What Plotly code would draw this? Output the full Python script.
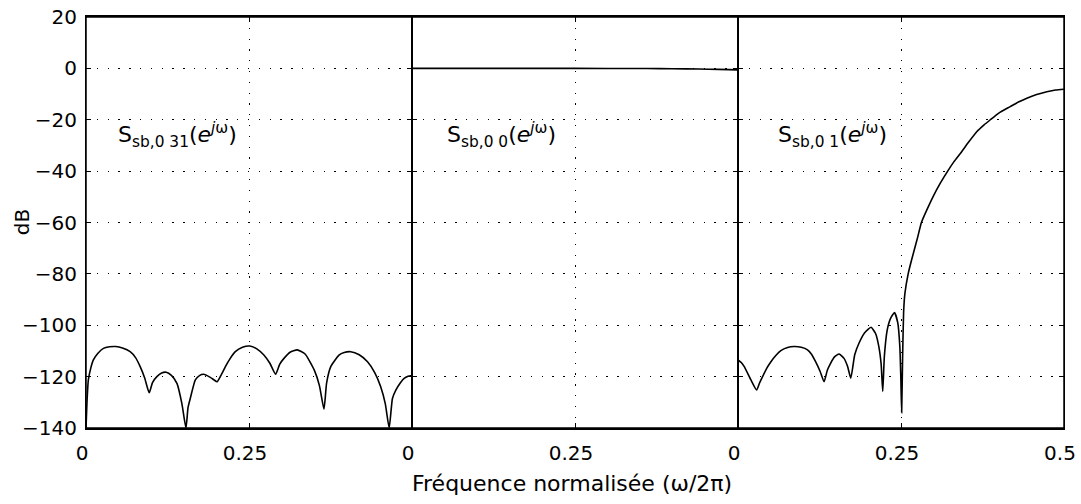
import plotly.graph_objects as go
from plotly.subplots import make_subplots

# ---- data ----
freq_31 = [0.0, 0.0015, 0.0036, 0.0075, 0.0113, 0.018, 0.0267, 0.036, 0.0456, 0.056, 0.0677, 0.076, 0.0831, 0.09, 0.0969,
           0.102, 0.1087, 0.116, 0.123, 0.131, 0.1395, 0.147, 0.1533,
           0.1565, 0.16, 0.1677, 0.174, 0.1805, 0.19, 0.196, 0.201,
           0.207, 0.2138, 0.221, 0.229, 0.24, 0.2512, 0.262, 0.2728, 0.282, 0.2908,
           0.297, 0.3036, 0.313, 0.324, 0.336, 0.35, 0.358, 0.365,
           0.369, 0.3754, 0.388, 0.396, 0.406, 0.419, 0.4318, 0.443, 0.452, 0.459, 0.465,
           0.47, 0.4754, 0.482, 0.488, 0.494, 0.5]
db_31 = [-140, -130, -121.3, -116.5, -113.5, -111, -109, -108.4, -108.3, -108.9, -110.3, -112.6, -116.1, -120.5, -126.3,
         -122.3, -120, -118.6, -118.3, -119.5, -122.6, -130.4, -140,
         -132, -128.4, -121.3, -119.6, -119.1, -120.2, -121.2, -122,
         -119.5, -116.1, -113, -110.3, -108.6, -108.1, -109.2, -111.6, -114.8, -119.1,
         -115.2, -112.9, -110.5, -109.6, -111.2, -117.4, -123.5, -132.7,
         -122.5, -116.1, -111.6, -110.6, -110.3, -111.5, -114.2, -118.5, -123.9, -130.5, -140,
         -128.5, -125.2, -122.5, -120.7, -119.9, -119.6]

freq_00 = [0.0, 0.1, 0.2, 0.3, 0.36, 0.4, 0.44, 0.47, 0.5]
db_00 = [0.0, 0.0, 0.0, -0.02, -0.05, -0.12, -0.25, -0.4, -0.6]

freq_01 = [0.0, 0.005, 0.0096, 0.0199, 0.0286, 0.033, 0.0377, 0.044, 0.0505, 0.058, 0.0657, 0.076, 0.086, 0.097,
           0.1066, 0.113, 0.119, 0.126, 0.132, 0.137, 0.142, 0.148, 0.155, 0.1626, 0.168, 0.173,
           0.179, 0.1855, 0.194, 0.204, 0.211, 0.216, 0.2195, 0.222, 0.2245, 0.2289, 0.234, 0.240,
           0.245, 0.2482, 0.2497, 0.251, 0.2525, 0.254, 0.256, 0.261, 0.2655, 0.270, 0.2755, 0.2813,
           0.2905, 0.300, 0.3105, 0.3216, 0.331, 0.341, 0.3535, 0.3665, 0.377, 0.387, 0.40, 0.4174,
           0.43, 0.443, 0.458, 0.4736, 0.487, 0.5]
db_01 = [-113.5, -114.5, -116.1, -121.3, -125.2, -122.5, -120, -116.8, -114.2, -111.8, -109.9, -108.7, -108.3, -108.6,
         -109.6, -111.4, -114.2, -118, -122, -117.5, -114.8, -112.3, -111.2, -112.9, -116, -120.6,
         -111.5, -107, -103, -100.8, -103.2, -108.3, -115, -125.8, -112, -101.8, -97.3, -95.1,
         -99, -108.3, -120, -134, -112, -95, -87.6, -80, -75.3, -71, -65.8, -60,
         -54.6, -49.5, -44.6, -40, -36.4, -33.1, -28.8, -24.6, -22.1, -20, -17.4, -14.9,
         -13.1, -11.6, -10.2, -9.1, -8.4, -8.1]

panel_labels = ["S<sub>sb,0 31</sub>(<i>e</i><sup><i>j</i>ω</sup>)",
                "S<sub>sb,0 0</sub>(<i>e</i><sup><i>j</i>ω</sup>)",
                "S<sub>sb,0 1</sub>(<i>e</i><sup><i>j</i>ω</sup>)"]
label_x = [0.046, 0.05, 0.058]
label_y = -26

y_ticks = [-140, -120, -100, -80, -60, -40, -20, 0, 20]
x_ticks_partial = [0, 0.25]
x_ticks_full = [0, 0.25, 0.5]

x_title = "Fréquence normalisée (ω/2π)"
y_title = "dB"

FONT = "DejaVu Sans"

fig = make_subplots(rows=1, cols=3, shared_yaxes=True, horizontal_spacing=0)

series = [(freq_31, db_31), (freq_00, db_00), (freq_01, db_01)]
for i, (fx, fy) in enumerate(series):
    fig.add_trace(go.Scatter(x=fx, y=fy, mode="lines",
                             line=dict(color="black", width=1.6, shape="spline", smoothing=0.5),
                             showlegend=False, hoverinfo="skip", cliponaxis=True),
                  row=1, col=i + 1)

grid = dict(showgrid=True, gridcolor="black", gridwidth=1, griddash="1.3px,9.5px")
for i in range(3):
    tv = x_ticks_full if i == 2 else x_ticks_partial
    fig.update_xaxes(range=[0, 0.5], tickvals=tv, ticktext=[f"{v:g}" for v in tv],
                     showline=True, linecolor="black", linewidth=1.5, mirror="ticks",
                     ticks="inside", ticklen=5, tickcolor="black", zeroline=False,
                     tickfont=dict(family=FONT, size=20, color="black"),
                     ticklabelstandoff=6, ticklabelshift=-4, automargin=False,
                     **grid, row=1, col=i + 1)
    fig.update_yaxes(range=[-140, 20], tickvals=y_ticks,
                     showline=True, linecolor="black", linewidth=1, mirror="ticks",
                     ticks="inside", ticklen=5, tickcolor="black", zeroline=False,
                     tickfont=dict(family=FONT, size=20, color="black"),
                     ticklabelstandoff=4, automargin=False,
                     showticklabels=(i == 0),
                     **grid, row=1, col=i + 1)
    fig.add_annotation(x=label_x[i], y=label_y, xref=f"x{'' if i == 0 else i + 1}",
                       yref="y", text=panel_labels[i], showarrow=False,
                       xanchor="left", yanchor="middle",
                       font=dict(family=FONT, size=22, color="black"))

# outer frame of the whole plotting area
fig.add_shape(type="rect", xref="paper", yref="paper", x0=0, x1=1, y0=0, y1=1,
              line=dict(color="black", width=1.5), layer="above")

fig.add_annotation(text=x_title, xref="paper", yref="paper", x=0.497, y=-0.134,
                   xanchor="center", yanchor="middle", showarrow=False,
                   font=dict(family=FONT, size=22, color="black"))
fig.add_annotation(text=y_title, xref="paper", yref="paper", x=-0.0654, y=0.501,
                   xanchor="center", yanchor="middle", showarrow=False, textangle=-90,
                   font=dict(family=FONT, size=20, color="black"))

fig.update_layout(width=1081, height=504,
                  margin=dict(l=86, r=17, t=17, b=76),
                  paper_bgcolor="white", plot_bgcolor="white",
                  font=dict(family=FONT, color="black"))

fig.write_html("out.html", config={"displayModeBar": False},
               post_script="document.body.style.margin='0';document.body.style.overflow='hidden';")
